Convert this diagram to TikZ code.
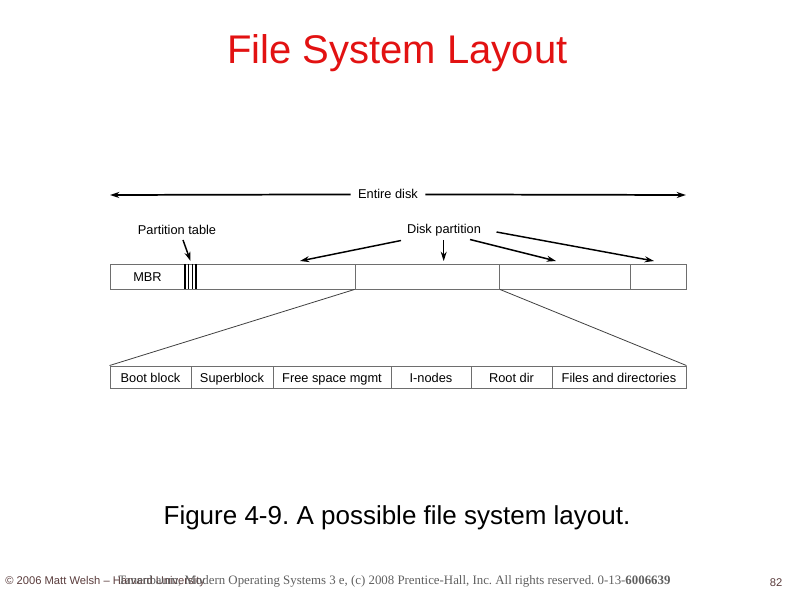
\documentclass[tikz,border=0pt]{standalone}
\usepackage{fontspec}
\setmainfont{Liberation Sans}
\newfontfamily\serifft{Liberation Serif}
\usetikzlibrary{arrows.meta}
\frenchspacing
\definecolor{titlered}{RGB}{226,18,18}
\definecolor{boxgray}{RGB}{110,110,110}
\definecolor{footbrown}{RGB}{90,60,60}
\definecolor{footgray}{RGB}{95,95,95}
\tikzset{
  cell/.style={draw=boxgray, line width=0.7pt, inner sep=0pt, text height=8.3pt, text depth=0.7pt, minimum height=18.75pt, font=\fontsize{9.6}{10}\selectfont},
  lowcell/.style={draw=boxgray, line width=0.7pt, inner sep=0pt, text height=8.3pt, text depth=0.7pt, minimum height=16.5pt, font=\fontsize{9.6}{10}\selectfont},
  lbl/.style={inner sep=1pt, font=\fontsize{9.6}{10}\selectfont},
  arr/.style={-{Stealth[length=7pt,width=4.5pt]}, line width=1.1pt, black},
  expand/.style={draw=black!75, line width=0.6pt},
}
\begin{document}
\begin{tikzpicture}[x=0.75pt,y=-0.75pt]
\useasboundingbox (0,0) rectangle (794,595);
% title
\node[anchor=base, text=titlered, font=\fontsize{30}{32}\selectfont, inner sep=0pt] (title) at (397.5,64) {File System Layout};
% entire disk
\node[lbl, anchor=base] (entire) at (388,199) {Entire disk};
\coordinate (edl) at (110,195);
\coordinate (edr) at (686,195);
\draw[arr, line width=1.3pt] (entire.west) ++(-6,0) -- (edl);
\draw[arr, line width=1.3pt] (entire.east) ++(6,0) -- (edr);
% top bar
\node[cell, minimum width=56.25pt] (mbr) at (147.5,276.5) {MBR};
\node[cell, minimum width=8.25pt] (ptab) at (190.5,276.5) {};
\node[cell, minimum width=119.25pt] (p1) at (275.5,276.5) {};
\node[cell, minimum width=108.375pt] (p2) at (427.25,276.5) {};
\node[cell, minimum width=98.25pt] (p3) at (565,276.5) {};
\node[cell, minimum width=41.625pt] (p4) at (658.25,276.5) {};
\foreach \xx in {185,188.7,192.4,196}{\draw[black, line width=0.9pt] (\xx,264) -- (\xx,289);}
% labels
\node[lbl, anchor=base] (ptlabel) at (177,235) {Partition table};
\node[lbl, anchor=base] (dplabel) at (444,234) {Disk partition};
\coordinate (ptt) at (190.5,261);
\draw[arr] (183,240) -- (ptt);
\coordinate (t1) at (300,261);
\coordinate (t2) at (443.7,261);
\coordinate (t3) at (556,261);
\coordinate (t4) at (654,261);
\draw[arr] (401,240.5) -- (t1);
\draw[arr] (443.7,240) -- (t2);
\draw[arr] (470,239.5) -- (t3);
\draw[arr] (496.5,232) -- (t4);
% lower bar
\node[lowcell, minimum width=60.75pt] (bb) at (150.5,377) {Boot block};
\node[lowcell, minimum width=61.5pt] (sb) at (232,377) {Superblock};
\node[lowcell, minimum width=88.5pt] (fs) at (332,377) {Free space mgmt};
\node[lowcell, minimum width=60pt] (in) at (431,377) {I-nodes};
\node[lowcell, minimum width=60.75pt] (rd) at (511.5,377) {Root dir};
\node[lowcell, minimum width=100.5pt] (fd) at (619,377) {Files and directories};
\draw[expand] (p2.south west) -- (bb.north west);
\draw[expand] (p2.south east) -- (fd.north east);
% caption
\node[anchor=base, font=\fontsize{19.5}{22}\selectfont, inner sep=0pt] (caption) at (397,525) {Figure 4-9. A possible file system layout.};
% footer
\node[anchor=base west, inner sep=0pt, text=footbrown, font=\fontsize{8.4}{9}\selectfont] (foot1) at (5,585) {© 2006 Matt Welsh – Harvard University};
\node[anchor=base west, inner sep=0pt, text=footgray, font=\serifft\fontsize{9.65}{10}\selectfont] (foot2) at (118,585) {Tanenbaum, Modern Operating Systems 3 e, (c) 2008 Prentice-Hall, Inc. All rights reserved. 0-13-\textbf{6006639}};
\node[anchor=base, inner sep=0pt, text=footbrown, font=\fontsize{8.4}{9}\selectfont] (pg) at (776,587) {82};
\end{tikzpicture}
\end{document}
